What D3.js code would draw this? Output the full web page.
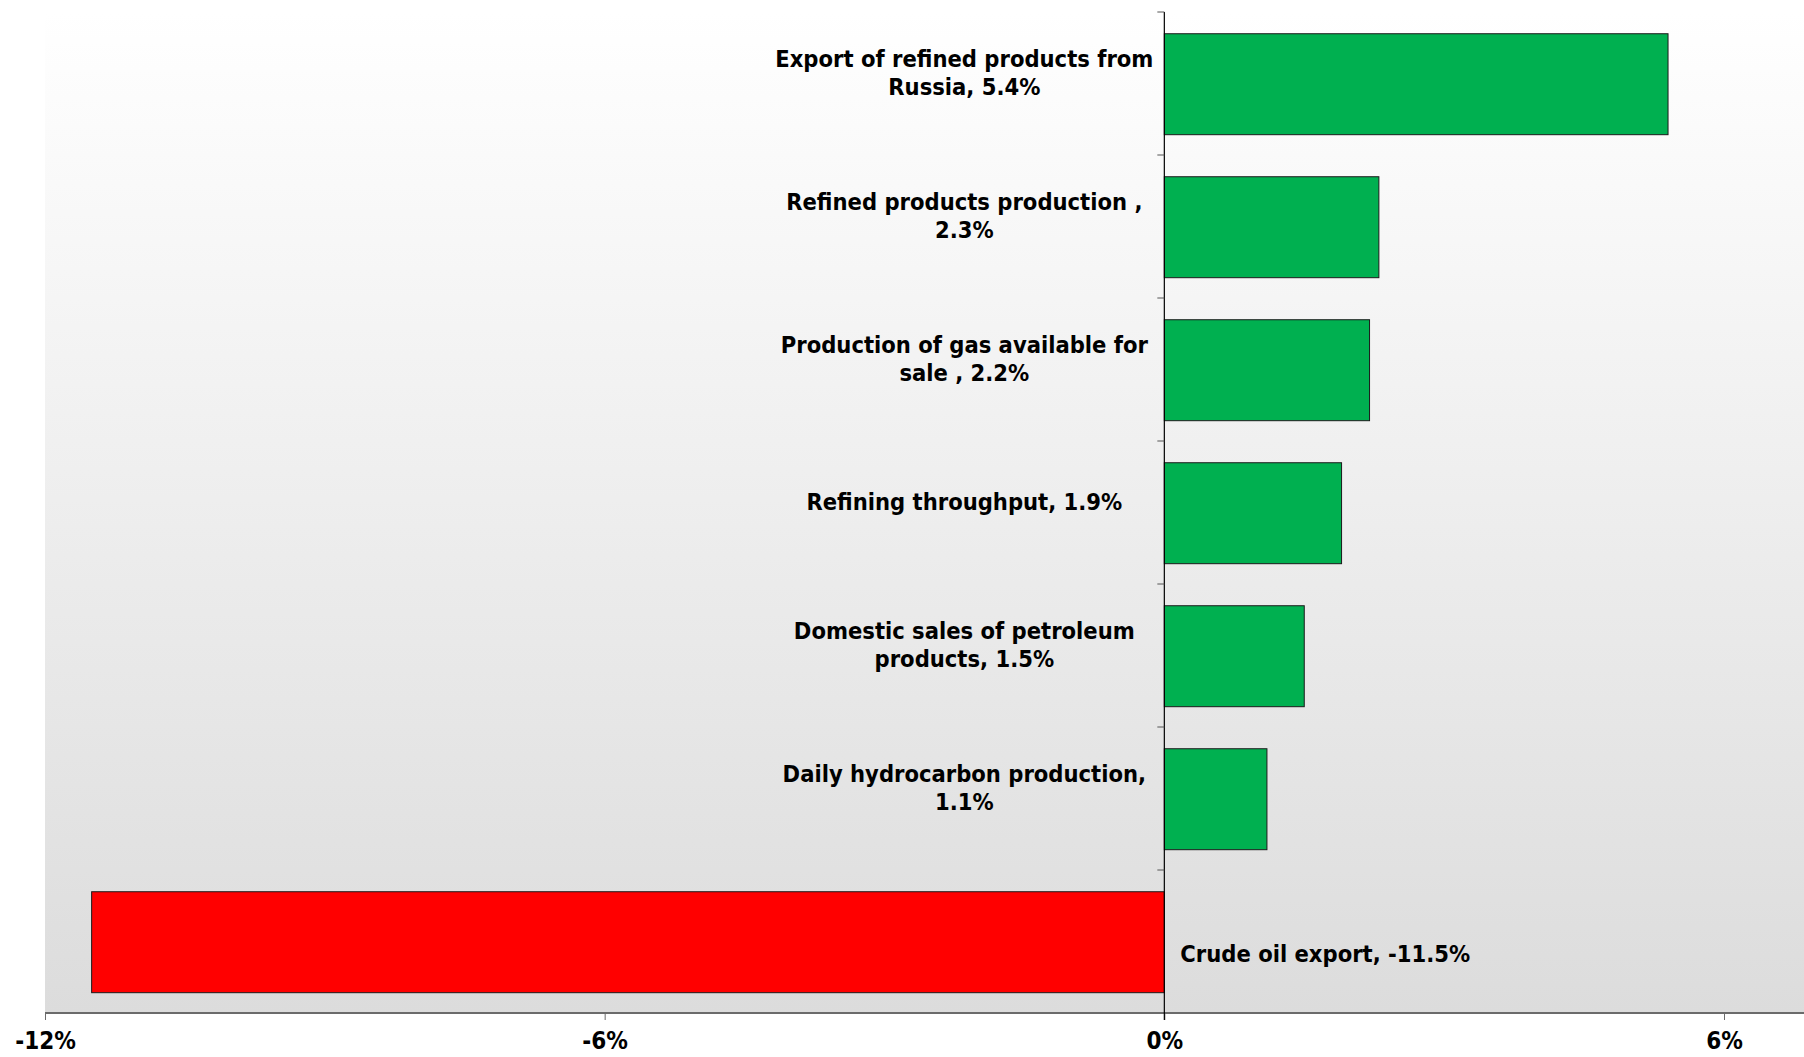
<!DOCTYPE html>
<html>
<head>
<meta charset="utf-8">
<script src="https://cdn.jsdelivr.net/npm/d3@7"></script>
<style>
  body { margin: 0; background: #fff; }
  svg { display: block; }
  text { font-family: "DejaVu Sans Condensed", "DejaVu Sans", sans-serif; font-weight: bold; fill: #000; }
</style>
</head>
<body>
<script>
// categories, top to bottom, with their label lines
const categories = ["export", "refined", "gas", "refining", "domestic", "daily", "crude"];
const labelLines = [
    ["Export of refined products from", "Russia, 5.4%"],
    ["Refined products production ,", "2.3%"],
    ["Production of gas available for", "sale , 2.2%"],
    ["Refining throughput, 1.9%"],
    ["Domestic sales of petroleum", "products, 1.5%"],
    ["Daily hydrocarbon production,", "1.1%"],
    ["Crude oil export, -11.5%"]
];
const values = [5.4, 2.3, 2.2, 1.9, 1.5, 1.1, -11.5];
const xTicks = [-12, -6, 0, 6];

const W = 1804, H = 1057;
const margin = {top: 12, bottom: 44, left: 45, right: 80};
const plotBottom = H - margin.bottom;

const svg = d3.select("body")
    .append("svg")
    .attr("width", W)
    .attr("height", H);

// x scale: -12% .. 6%
const x = d3.scaleLinear()
    .domain([-12, 6])
    .range([margin.left, W - margin.right]);

const y = d3.scaleBand()
    .domain(categories)
    .range([margin.top, plotBottom])
    .padding(0);

// plot area gradient (white at top, light gray at bottom)
const grad = svg.append("defs").append("linearGradient")
    .attr("id", "bg")
    .attr("x1", 0).attr("y1", 0)
    .attr("x2", 0).attr("y2", 1);
grad.append("stop").attr("offset", "0%").attr("stop-color", "#ffffff");
grad.append("stop").attr("offset", "100%").attr("stop-color", "#dcdcdc");

svg.append("rect")
    .attr("x", margin.left)
    .attr("y", margin.top)
    .attr("width", W - margin.left)
    .attr("height", plotBottom - margin.top)
    .attr("fill", "url(#bg)");

// bars
const bh = y.bandwidth() * 0.706;
svg.selectAll("rect.bar")
    .data(values)
    .enter()
    .append("rect")
    .attr("class", "bar")
    .attr("x", d => x(Math.min(0, d)))
    .attr("y", (d, i) => y(categories[i]) + y.bandwidth() * 0.152)
    .attr("width", d => Math.abs(x(d) - x(0)))
    .attr("height", bh)
    .attr("fill", d => d >= 0 ? "#00b050" : "#ff0000")
    .attr("stroke", "#1a1a1a")
    .attr("stroke-width", 1);

// x axis
const xAxis = svg.append("g")
    .attr("transform", `translate(0,${plotBottom})`)
    .call(d3.axisBottom(x).tickValues(xTicks).tickSize(7).tickPadding(12).tickFormat(d => d + "%"));
xAxis.select(".domain")
    .attr("d", `M${margin.left},0H${W}`)
    .attr("stroke", "#6b6b6b")
    .attr("stroke-width", 2);
xAxis.selectAll(".tick line").attr("stroke", "#6b6b6b");
xAxis.selectAll(".tick text")
    .attr("font-size", "24px")
    .style("font-family", "'DejaVu Sans Condensed', 'DejaVu Sans', sans-serif")
    .attr("font-weight", "bold")
    .attr("fill", "#000");

// y axis at zero, ticks at band boundaries
const x0 = x(0);
svg.append("line")
    .attr("x1", x0).attr("x2", x0)
    .attr("y1", margin.top).attr("y2", plotBottom + 7)
    .attr("stroke", "#000")
    .attr("stroke-width", 1.2);
svg.selectAll("line.ytick")
    .data(categories)
    .enter()
    .append("line")
    .attr("class", "ytick")
    .attr("x1", x0 - 7).attr("x2", x0)
    .attr("y1", d => y(d)).attr("y2", d => y(d))
    .attr("stroke", "#555");

// labels: positives to the left of the axis, negatives to the right
const lineH = 28;
const labels = svg.selectAll("text.lab")
    .data(values)
    .enter()
    .append("text")
    .attr("class", "lab")
    .attr("font-size", "23.5px");

labels.each(function(d, i) {
    const lines = labelLines[i];
    const cy = y(categories[i]) + y.bandwidth() / 2;
    const t = d3.select(this);
    if (d >= 0) {
        const top = cy - 11 - (lines.length - 1) * lineH / 2;
        t.attr("text-anchor", "middle");
        lines.forEach((s, k) => {
            t.append("tspan")
                .attr("x", x0 - 200)
                .attr("y", top + k * lineH)
                .attr("dy", "0.35em")
                .text(s);
        });
    } else {
        t.attr("text-anchor", "start")
            .attr("x", x0 + 16)
            .attr("y", cy + 12)
            .attr("dy", "0.35em")
            .text(lines[0]);
    }
});
</script>
</body>
</html>
